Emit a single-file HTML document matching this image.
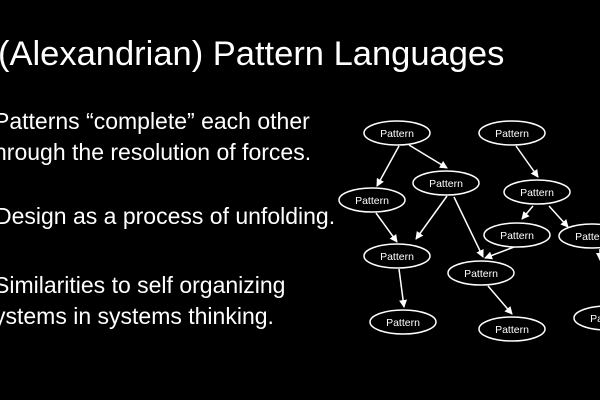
<!DOCTYPE html>
<html><head><style>
body{margin:0;width:600px;height:400px;background:#000;overflow:hidden;position:relative;font-family:"Liberation Sans",sans-serif;color:#fff}
.t{position:absolute;white-space:nowrap}
</style></head><body>
<div class="t" style="left:-2px;top:35px;font-size:34.5px">(Alexandrian) Pattern Languages</div>
<div class="t" style="left:-6px;top:106px;font-size:23px;line-height:31px">Patterns “complete” each other<br>hrough the resolution of forces.</div>
<div class="t" style="left:-5px;top:203px;font-size:23px">Design as a process of unfolding.</div>
<div class="t" style="left:-6px;top:270px;font-size:23px;line-height:31px">Similarities to self organizing<br>ystems in systems thinking.</div>
<svg width="600" height="400" style="position:absolute;left:0;top:0">
<defs><marker id="a" markerWidth="8" markerHeight="8" refX="7" refY="4" orient="auto" markerUnits="userSpaceOnUse"><path d="M0,0L8,4L0,8z" fill="#fff"/></marker></defs>
<g stroke="#fff" stroke-width="1.5" marker-end="url(#a)">
<line x1="399" y1="146" x2="377" y2="186"/>
<line x1="409" y1="145" x2="447" y2="168"/>
<line x1="447" y1="196" x2="416" y2="239"/>
<line x1="376" y1="213" x2="397" y2="242"/>
<line x1="454" y1="197" x2="483" y2="257"/>
<line x1="516" y1="146" x2="538" y2="177"/>
<line x1="533" y1="206" x2="522" y2="219"/>
<line x1="549" y1="206" x2="568" y2="227"/>
<line x1="514" y1="247" x2="485" y2="258"/>
<line x1="399" y1="269" x2="404" y2="307"/>
<line x1="488" y1="286" x2="512" y2="314"/>
<line x1="600" y1="249" x2="600" y2="260"/>
</g>
<g fill="#000" stroke="#fff" stroke-width="1.5">
<ellipse cx="397" cy="133" rx="33" ry="12"/>
<ellipse cx="512" cy="133" rx="33" ry="12"/>
<ellipse cx="446" cy="183" rx="33" ry="12"/>
<ellipse cx="372" cy="200" rx="33" ry="12"/>
<ellipse cx="537" cy="192" rx="33" ry="12"/>
<ellipse cx="517" cy="235" rx="33" ry="12"/>
<ellipse cx="592" cy="236" rx="33" ry="12"/>
<ellipse cx="397" cy="256" rx="33" ry="12"/>
<ellipse cx="481" cy="273" rx="33" ry="12"/>
<ellipse cx="403" cy="322" rx="33" ry="12"/>
<ellipse cx="512" cy="329" rx="33" ry="12"/>
<ellipse cx="607" cy="318" rx="33" ry="12"/>
</g>
<g fill="#fff" font-size="10.5" text-anchor="middle" font-family="Liberation Sans,sans-serif">
<text x="397" y="137">Pattern</text><text x="512" y="137">Pattern</text>
<text x="446" y="187">Pattern</text><text x="372" y="204">Pattern</text>
<text x="537" y="196">Pattern</text><text x="517" y="239">Pattern</text>
<text x="592" y="240">Pattern</text><text x="397" y="260">Pattern</text>
<text x="481" y="277">Pattern</text><text x="403" y="326">Pattern</text>
<text x="512" y="333">Pattern</text><text x="607" y="322">Pattern</text>
</g>
</svg>
</body></html>
